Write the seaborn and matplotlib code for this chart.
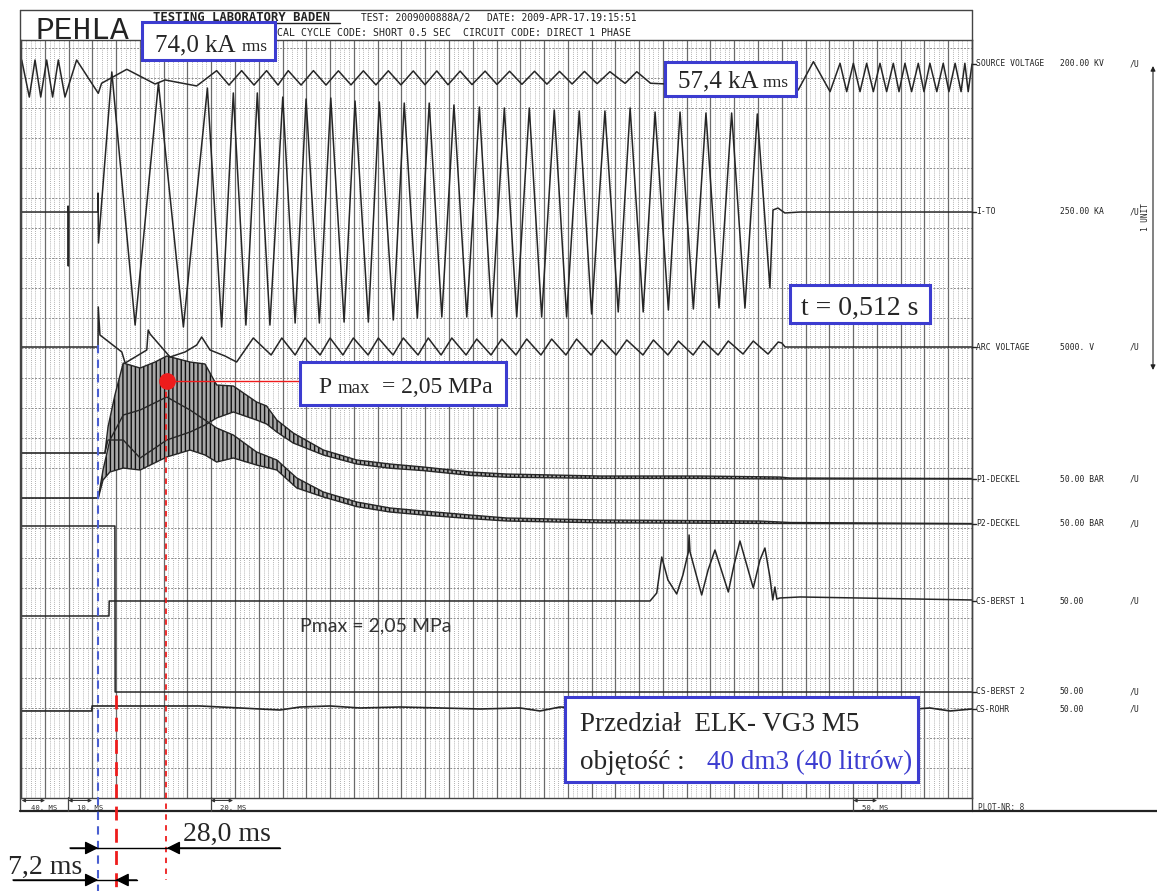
import numpy as np
import matplotlib
matplotlib.use("Agg")
import matplotlib.pyplot as plt
import seaborn as sns
from matplotlib.patches import Rectangle

# time is in chart divisions (40 major divisions across the record)
# SOURCE VOLTAGE, kV
src_t = [0.03, 0.35, 0.59, 0.83, 1.08, 1.33, 1.57, 1.85, 2.34, 3.25, 3.39, 4.45, 5.64, 6.06, 7.39,
         8.23, 8.75, 9.28, 9.80, 10.33, 10.81, 11.24, 11.78, 12.30, 12.83, 13.35, 13.88, 14.40, 14.93,
         15.45, 15.98, 16.50, 16.99, 17.49, 17.96, 18.47, 18.97, 19.52, 20.02, 20.55, 21.07, 21.60, 22.12,
         22.65, 23.18, 23.70, 24.23, 24.77, 25.41, 25.90, 26.48,
         32.69, 33.33, 34.03, 34.45, 34.73, 35.01, 35.29, 35.57, 35.85, 36.13, 36.41, 36.69, 36.93, 37.18,
         37.46, 37.74, 37.98, 38.23, 38.52, 38.79, 39.03, 39.29, 39.54, 39.70, 39.84, 40.0]
src_kv = [12.0, -12.7, 12.0, -12.7, 12.0, -12.7, 12.0, -12.7, 12.0, -10.2, -3.5, 5.8, -4.0, -1.3, -5.3,
          4.9, -4.7, 4.9, -4.7, 4.9, -4.7, 4.9, -4.7, 4.9, -4.7, 4.8, -4.6, 4.8, -4.6,
          4.8, -4.6, 4.7, -4.5, 4.7, -4.5, 4.6, -4.4, 4.6, -4.3, 4.5, -4.2, 4.5, -4.1,
          4.4, -4.0, 4.4, -3.8, 4.2, -3.6, 4.2, -3.5,
          -8.0, 10.9, -9.1, 9.8, -9.1, 9.8, -9.1, 9.8, -9.1, 9.8, -9.1, 9.8, -9.1, 9.8,
          -9.1, 9.8, -9.1, 9.8, -9.1, 9.8, -9.1, 9.8, -9.1, 9.8, -9.1, 9.3]

# I-TO, kA
cur_t = [0, 1.97, 1.98, 1.99, 2.0, 3.23, 3.24, 3.26, 3.82, 4.80, 5.78, 6.83, 7.84, 8.44, 8.93, 9.46,
         9.94, 10.47, 11.01, 11.53, 11.99, 12.55, 13.03, 13.59, 14.05, 14.61, 15.07, 15.66, 16.12, 16.67,
         17.17, 17.70, 18.21, 18.75, 19.28, 19.80, 20.33, 20.85, 21.38, 21.90, 22.43, 22.95, 23.48, 24.00,
         24.56, 25.12, 25.62, 26.17, 26.67, 27.23, 27.72, 28.28, 28.81, 29.36, 29.89, 30.45, 30.97, 31.50,
         31.63, 31.84, 32.13, 32.77, 40.0]
cur_ka = [0, 0, 5, -45, 0, 0, 15.8, -25.8, 116.7, -94.2, 107.5, -95.8, 103.3, -95.8, 99.2, -94.2,
          99.2, -94.2, 95.8, -92.5, 94.2, -92.5, 95.0, -91.7, 92.5, -91.7, 91.7, -90.0, 90.8, -88.3,
          90.8, -87.5, 89.2, -87.5, 87.5, -87.5, 86.7, -87.5, 86.7, -87.5, 85.0, -87.5, 84.2, -85.0,
          84.2, -83.3, 86.7, -83.3, 83.3, -81.7, 83.3, -80.8, 82.5, -80.0, 82.5, -80.0, 81.7, -63.3,
          1.7, 3.3, -0.8, 0, 0]

# ARC VOLTAGE, V
arc_t = [0, 3.24, 3.25, 3.32, 4.24, 4.38, 5.29, 5.35, 5.43, 6.27, 6.90, 7.39, 7.60, 7.95, 8.58, 9.07, 9.77,
         10.52, 10.97, 11.53, 11.95, 12.58, 13.00, 13.54, 13.98, 14.60, 15.03, 15.65, 16.08, 16.70, 17.13,
         17.67, 18.12, 18.72, 19.17, 19.77, 20.22, 20.82, 21.27, 21.87, 22.32, 22.92, 23.37, 23.98, 24.43,
         25.03, 25.48, 26.16, 26.60, 27.21, 27.65, 28.27, 28.70, 29.32, 29.75, 30.37, 30.80, 31.42, 31.85,
         32.00, 32.14, 40.0]
arc_v = [0, 0, 667, 200, -83, -267, -50, 283, 217, -167, -83, 33, 167, -50, -150, -250, 150,
         -133, 150, -133, 150, -133, 150, -133, 150, -133, 150, -133, 150, -133, 150,
         -133, 150, -133, 133, -133, 133, -133, 133, -133, 133, -133, 133, -133, 117,
         -133, 117, -133, 117, -133, 100, -133, 100, -133, 100, -117, 100, -117, 83,
         67, 0, 0]

# P1-DECKEL / P2-DECKEL, bar (oscillation envelope)
p1_pre_t = [0, 3.53]
p1_pre = [4.33, 4.33]
p1_t = [3.53, 3.66, 3.95, 4.30, 5.01, 5.64, 6.13, 7.11, 7.74, 8.23, 8.93, 9.91, 10.33, 10.76, 11.45,
        12.72, 14.12, 15.52, 16.92, 18.89, 20.43, 24.35, 28.56, 31.92, 32.34, 40.0]
p1_hi = [4.33, 8.67, 14.0, 19.33, 18.5, 19.5, 20.5, 19.5, 19.17, 15.67, 15.5, 12.83, 12.17, 9.83, 7.67,
         4.83, 3.17, 2.5, 2.0, 1.17, 0.83, 0.5, 0.5, 0.33, 0.17, 0.08]
p1_lo = [4.33, 6.5, 6.5, 6.5, 3.5, 5.17, 6.5, 7.83, 9.0, 10.17, 11.17, 9.83, 9.17, 7.83, 6.0,
         4.0, 2.5, 1.8, 1.4, 0.6, 0.3, 0.1, 0.1, 0.0, 0.0, 0.0]
p2_pre_t = [0, 3.25]
p2_pre = [4.33, 4.33]
p2_t = [3.25, 3.45, 3.74, 4.30, 5.01, 6.13, 7.11, 7.74, 8.23, 8.93, 9.91, 10.76, 11.60, 12.72, 14.12,
        15.52, 16.92, 18.89, 20.43, 24.35, 31.08, 32.34, 40.0]
p2_hi = [4.33, 9.0, 14.0, 18.17, 19.0, 21.17, 19.0, 17.33, 16.0, 14.83, 12.0, 10.67, 7.67, 5.33, 3.67,
         2.67, 2.17, 1.5, 1.0, 0.67, 0.5, 0.25, 0.08]
p2_lo = [4.33, 7.33, 8.67, 9.33, 9.0, 11.17, 12.33, 11.5, 10.33, 11.0, 9.83, 9.0, 6.0, 4.5, 2.9,
         2.0, 1.5, 0.9, 0.5, 0.2, 0.1, 0.08, 0.0]

# CS-BERST 1, CS-BERST 2, CS-ROHR
cb1_t = [0, 3.70, 3.71, 26.25, 26.46, 26.74, 26.95, 27.21, 27.58, 27.84, 28.07, 28.10, 28.14, 28.63,
         28.90, 29.19, 29.75, 29.99, 30.24, 30.80, 31.08, 31.29, 31.50, 31.62, 31.71, 31.79, 31.92, 32.77, 40.0]
cb1_v = [-2.5, -2.5, 0, 0, 0, 1.33, 7.33, 3.5, 1.17, 4.33, 8.17, 11.0, 8.17, 1.0,
         5.17, 8.5, 1.5, 6.0, 10.0, 2.17, 6.83, 8.83, 4.0, 0.17, 2.33, 0.33, 0.5, 0.67, 0.17]
cb2_t = [0, 3.95, 3.96, 40.0]
cb2_v = [27.67, 27.67, 0, 0]
rohr_t = [0, 2.98, 2.99, 7.53, 9.21, 10.89, 11.74, 13.00, 14.26, 15.94, 17.62, 19.31, 20.99, 21.83,
          22.67, 24.35, 26.04, 28.56, 31.08, 32.77, 34.87, 36.13, 36.97, 38.23, 39.08, 40.0]
rohr_v = [-0.33, -0.33, 0.5, 0.5, 0.17, -0.17, 0.33, 0.5, 0.17, 0.33, 0.17, 0, 0.17, -0.33,
          0.33, 0, 0.17, 0, 0, 0.17, 0, 0.33, -0.17, 0.17, -0.33, 0]

# channel labels, ranges per unit
channels = ["SOURCE VOLTAGE", "I-TO", "ARC VOLTAGE", "P1-DECKEL", "P2-DECKEL",
            "CS-BERST 1", "CS-BERST 2", "CS-ROHR"]
ranges = ["200.00 KV", "250.00 KA", "5000. V", "50.00 BAR", "50.00 BAR", "50.00", "50.00", "50.00"]
time_marks = ["40. MS", "10. MS", "20. MS", "50. MS"]

sns.set_style("white")
plt.rcParams["font.family"] = ["DejaVu Sans"]
plt.rcParams["hatch.linewidth"] = 1.0
plt.rcParams["hatch.color"] = "#111111"

W, H = 1157, 891
fig = plt.figure(figsize=(W / 100, H / 100), dpi=100)
ax = fig.add_axes([21 / W, (H - 798) / H, 951 / W, 758 / H])
ax.set_xlim(0, 40)
ax.set_ylim(0, 758 / 30)
ax.set_xticks(np.arange(0, 41, 1))
ax.set_xticks(np.arange(0, 40.01, 0.2), minor=True)
ax.set_yticks(np.arange(0, 26, 1))
ax.grid(which="major", axis="x", color="#6a6a6a", lw=0.9, ls="-")
ax.grid(which="minor", axis="x", color="#999999", lw=0.6, ls=(0, (1, 1.5)))
ax.grid(which="major", axis="y", color="#8a8a8a", lw=0.7, ls=(0, (2, 1.5)))
ax.tick_params(which="both", length=0, labelbottom=False, labelleft=False)
for s in ax.spines.values():
    s.set_color("#444444")
    s.set_linewidth(1.0)

INK = "#262626"
# zero line of every channel (in divisions); 1 unit of range = 10 divisions
zero = {"src": 24.0, "ito": 19.533, "arc": 15.033, "p1": 10.633, "p2": 9.133,
        "cb1": 6.567, "cb2": 3.533, "rohr": 2.967}


def trace(t, v, ch, per_unit, lw=1.1):
    y = zero[ch] + np.asarray(v, float) * 10.0 / per_unit
    sns.lineplot(x=np.asarray(t, float), y=y, ax=ax, sort=False, estimator=None,
                 color=INK, lw=lw)


def band(t, hi, lo, ch, per_unit):
    k = 10.0 / per_unit
    t = np.asarray(t, float)
    yh = zero[ch] + np.asarray(hi, float) * k
    yl = zero[ch] + np.asarray(lo, float) * k
    ax.fill_between(t, yl, yh, facecolor="#a8a8a8", edgecolor="#111111", hatch="||||", lw=0)
    sns.lineplot(x=t, y=yh, ax=ax, sort=False, estimator=None, color=INK, lw=1.0)
    sns.lineplot(x=t, y=yl, ax=ax, sort=False, estimator=None, color=INK, lw=1.0)


trace(src_t, src_kv, "src", 200)
trace(cur_t, cur_ka, "ito", 250)
trace(arc_t, arc_v, "arc", 5000)
trace(p1_pre_t, p1_pre, "p1", 50, lw=1.2)
trace(p2_pre_t, p2_pre, "p2", 50, lw=1.2)
band(p1_t, p1_hi, p1_lo, "p1", 50)
band(p2_t, p2_hi, p2_lo, "p2", 50)
trace(cb1_t, cb1_v, "cb1", 50)
trace(cb2_t, cb2_v, "cb2", 50)
trace(rohr_t, rohr_v, "rohr", 50, lw=1.2)

# ---- overlay in pixel space for the printed frame and the annotations ----
ov = fig.add_axes([0, 0, 1, 1], facecolor="none")
ov.set_xlim(0, W)
ov.set_ylim(H, 0)
ov.axis("off")
mono = "DejaVu Sans Mono"
serif = "Liberation Serif"
BLUE = "#3c3cd0"
RED = "#ee1c1c"

ov.plot([20, 972], [10, 10], color="#444", lw=1)
ov.plot([20, 20], [10, 811], color="#444", lw=1)
ov.plot([972, 972], [10, 811], color="#444", lw=1)
ov.plot([20, W], [811, 811], color="#222", lw=1.6)
for xx in [68.3, 210.7, 853.3]:
    ov.plot([xx, xx], [797, 811], color="#444", lw=0.9)
for (a, b), lab in zip([(21.7, 45), (68.3, 92), (210.7, 233), (853.3, 877)], time_marks):
    ov.annotate("", xy=(b, 800.5), xytext=(a, 800.5),
                arrowprops=dict(arrowstyle="<|-|>", lw=0.7, color="#333", mutation_scale=5,
                                shrinkA=0, shrinkB=0))
    ov.text(a + 9, 809.5, lab, fontsize=5.2, family=mono, color="#333")
ov.text(978, 810, "PLOT-NR: 8", fontsize=5.6, family=mono, color="#333")

# header
ov.text(35, 39, "PEHLA", fontsize=22.5, family="Liberation Mono", color="#222")
ov.text(153, 21, "TESTING LABORATORY BADEN", fontsize=8.8, family=mono, weight="bold", color="#222")
ov.plot([153, 340], [23, 23], color="#222", lw=1)
ov.text(361, 21, "TEST: 2009000888A/2", fontsize=6.9, family=mono, color="#222")
ov.text(487, 21, "DATE: 2009-APR-17.19:15:51", fontsize=6.9, family=mono, color="#222")
ov.text(277, 36, "CAL CYCLE CODE: SHORT 0.5 SEC  CIRCUIT CODE: DIRECT 1 PHASE",
        fontsize=7.1, family=mono, color="#222")

# channel labels on the right
for name, rng, yy in zip(channels, ranges, [64, 212, 347, 479, 524, 601, 692, 709]):
    ov.plot([972, 976], [yy, yy], color=INK, lw=1)
    ov.text(976, yy, name, fontsize=5.8, family=mono, va="center", color="#222")
    ov.text(1060, yy, rng, fontsize=5.8, family=mono, va="center", color="#222")
    ov.text(1130, yy, "/U", fontsize=5.8, family=mono, va="center", color="#222")
ov.annotate("", xy=(1153, 66), xytext=(1153, 370),
            arrowprops=dict(arrowstyle="<|-|>", lw=0.8, color="#222", mutation_scale=7,
                            shrinkA=0, shrinkB=0))
ov.text(1146, 217, "1 UNIT", fontsize=5.6, family=mono, rotation=90, ha="center", va="center")

# marker lines
ov.plot([98.3, 98.3], [345, 891], color="#4a5fd0", lw=1.5, ls=(0, (4, 3)))
ov.plot([115.5, 115.5], [695, 891], color=RED, lw=2.0, ls=(0, (5, 3)))
ov.plot([165.7, 165.7], [381, 880], color=RED, lw=1.3, ls=(0, (3, 3)))
ov.plot([167, 300], [381, 381], color=RED, lw=1.0)
ov.plot([167], [381], "o", color=RED, ms=11)

# dimension arrows
ov.plot([70, 280], [848, 848], color="k", lw=1.0)
ov.plot([13, 136.7], [880, 880], color="k", lw=1.0)
for x0, x1, yy in [(70, 98.3, 848), (280, 166.7, 848), (13, 98.3, 880), (136.7, 115.5, 880)]:
    ov.annotate("", xy=(x1, yy), xytext=(x0, yy),
                arrowprops=dict(arrowstyle="-|>", lw=1.0, color="k", mutation_scale=20,
                                shrinkA=0, shrinkB=0))
ov.text(183, 841, "28,0 ms", fontsize=20, family=serif)
ov.text(8, 874, "7,2 ms", fontsize=20, family=serif)

# boxed notes
boxes = [(142, 22, 133, 38), (665, 62, 131, 34), (790, 285, 140, 38), (300, 362, 206, 43),
         (565, 697, 353, 85)]
for bx, by, bw, bh in boxes:
    ov.add_patch(Rectangle((bx, by), bw, bh, facecolor="white", edgecolor=BLUE, lw=2.2, zorder=5))
ov.text(155, 51, "74,0 kA", fontsize=18, family=serif, zorder=6)
ov.text(242, 51, "rms", fontsize=12.5, family=serif, zorder=6)
ov.text(678, 87, "57,4 kA", fontsize=18, family=serif, zorder=6)
ov.text(763, 87, "rms", fontsize=12.5, family=serif, zorder=6)
ov.text(860, 305, "t = 0,512 s", fontsize=20, family=serif, ha="center", va="center_baseline", zorder=6)
ov.text(318, 393, "P", fontsize=17, family=serif, zorder=6)
ov.text(338, 393, "max", fontsize=13.5, family=serif, zorder=6)
ov.text(382, 393, "= 2,05 MPa", fontsize=17, family=serif, zorder=6)
ov.text(580, 731, "Przedział  ELK- VG3 M5", fontsize=19.5, family=serif, zorder=6)
ov.text(580, 769, "objętość : ", fontsize=19.5, family=serif, zorder=6)
ov.text(707, 769, "40 dm3 (40 litrów)", fontsize=19.5, family=serif, color=BLUE, zorder=6)
ov.text(300, 631, "Pmax = 2,05 MPa", fontsize=14, family="Lato", color="#333")

fig.savefig("out.png", dpi=100)
